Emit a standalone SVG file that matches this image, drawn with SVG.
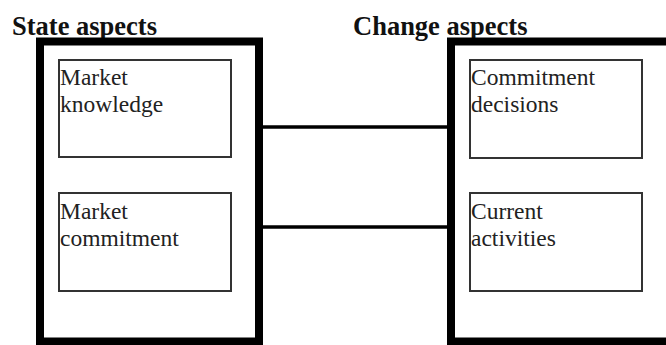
<svg xmlns="http://www.w3.org/2000/svg" width="666" height="345" viewBox="0 0 666 345">
<style>
.title{font-family:'Liberation Serif',serif;font-weight:bold;font-size:26.5px;fill:#111}
.lbl{font-family:'Liberation Serif',serif;font-size:23.5px;fill:#222}
.outer{fill:#fff;stroke:#000;stroke-width:8}
.inner{fill:#fff;stroke:#333;stroke-width:2}
.conn{stroke:#000;stroke-width:3.5;fill:none}
</style>
<rect width="666" height="345" fill="#fff"/>
<g id="title-state"><text class="title" x="12" y="35">State aspects</text></g>
<g id="title-change"><text class="title" x="353" y="35">Change aspects</text></g>
<g id="state-aspects"><rect class="outer" x="40" y="41.5" width="219" height="300"/></g>
<g id="change-aspects"><rect class="outer" x="451" y="41.5" width="260" height="300"/></g>
<g id="connectors">
<line class="conn" x1="259" y1="127" x2="451" y2="127"/>
<line class="conn" x1="259" y1="227" x2="451" y2="227"/>
</g>
<g id="market-knowledge"><rect class="inner" x="59" y="60" width="172" height="97"/>
<text class="lbl" x="60" y="85">Market</text><text class="lbl" x="60" y="112">knowledge</text></g>
<g id="market-commitment"><rect class="inner" x="59" y="193" width="172" height="98"/>
<text class="lbl" x="60" y="219">Market</text><text class="lbl" x="60" y="246">commitment</text></g>
<g id="commitment-decisions"><rect class="inner" x="470" y="60" width="172" height="98"/>
<text class="lbl" x="471" y="85">Commitment</text><text class="lbl" x="471" y="112">decisions</text></g>
<g id="current-activities"><rect class="inner" x="470" y="193" width="172" height="98"/>
<text class="lbl" x="471" y="219">Current</text><text class="lbl" x="471" y="246">activities</text></g>
</svg>
